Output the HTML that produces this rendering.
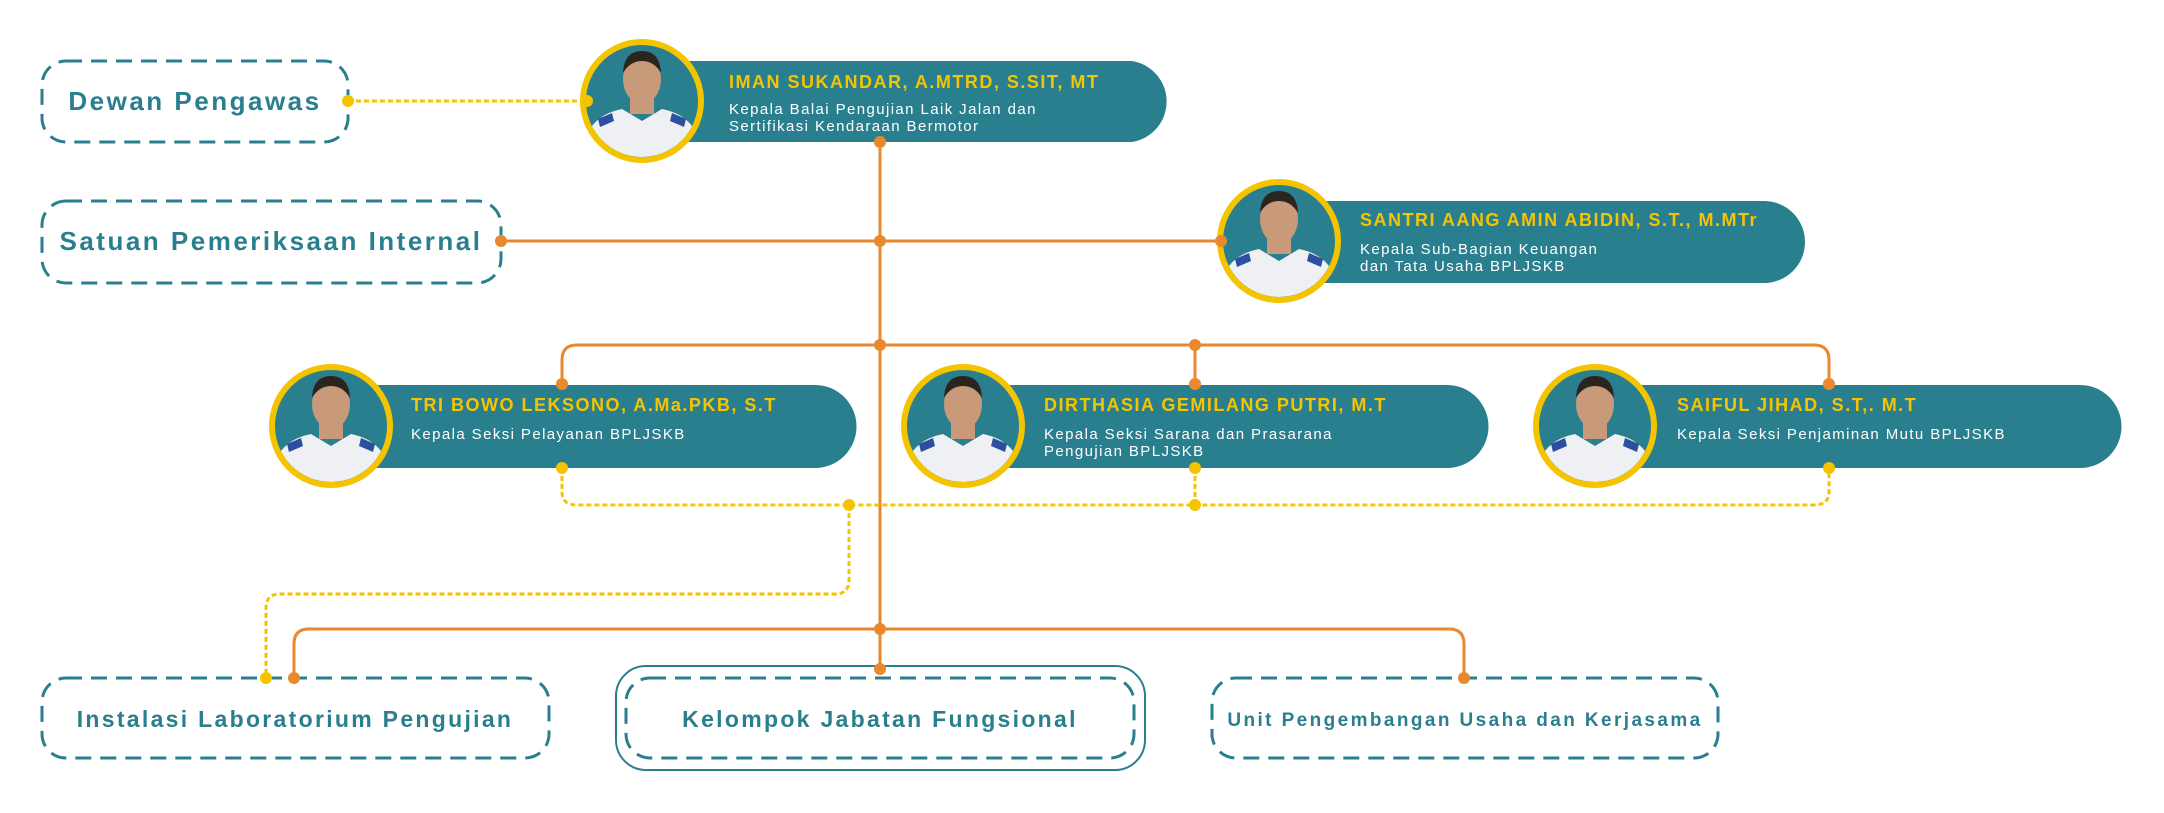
<!DOCTYPE html>
<html><head><meta charset="utf-8"><style>
html,body{margin:0;padding:0;background:#fff;}
svg{display:block;}
text{font-family:"Liberation Sans",sans-serif;}
</style></head><body>
<svg width="2164" height="813" viewBox="0 0 2164 813" xmlns="http://www.w3.org/2000/svg">
<defs>
<clipPath id="c1"><circle cx="0" cy="0" r="56"/></clipPath>
<g id="person">
  <circle cx="0" cy="0" r="58" fill="#2a7f8f"/>
  <g clip-path="url(#c1)">
    <path d="M-55 60 L-50 25 Q-40 12 -20 8 L0 20 L20 8 Q40 12 50 25 L55 60 Z" fill="#eef0f3"/>
    <rect x="-12" y="-5" width="24" height="18" fill="#c99a7a"/>
    <ellipse cx="0" cy="-22" rx="19" ry="25" fill="#c99a7a"/>
    <path d="M-19 -28 Q-18 -50 0 -50 Q18 -50 19 -28 Q12 -40 0 -40 Q-12 -40 -19 -28Z" fill="#2b2520"/>
    <path d="M-44 18 L-30 12 L-28 20 L-42 26Z" fill="#2d4fa0"/>
    <path d="M44 18 L30 12 L28 20 L42 26Z" fill="#2d4fa0"/>
  </g>
  <circle cx="0" cy="0" r="59" fill="none" stroke="#f5c400" stroke-width="6"/>
</g>
</defs>

<g stroke="#e8892e" stroke-width="3" fill="none">
  <line x1="880" y1="142" x2="880" y2="669"/>
  <line x1="501" y1="241" x2="1221" y2="241"/>
  <path d="M562 384 L562 360 Q562 345 577 345 L1814 345 Q1829 345 1829 360 L1829 384"/>
  <line x1="1195" y1="345" x2="1195" y2="384"/>
  <path d="M294 678 L294 644 Q294 629 309 629 L1449 629 Q1464 629 1464 644 L1464 678"/>
</g>
<g stroke="#f5c400" stroke-width="3" fill="none" stroke-dasharray="5 3">
  <line x1="348" y1="101" x2="585" y2="101"/>
  <path d="M562 468 L562 492 Q562 505 577 505 L1814 505 Q1829 505 1829 492 L1829 468"/>
  <line x1="1195" y1="468" x2="1195" y2="505"/>
  <path d="M849 505 L849 580 Q849 594 835 594 L280 594 Q266 594 266 608 L266 678"/>
</g>

<g fill="none" stroke="#2a7f8f" stroke-width="3" stroke-dasharray="16 9">
  <rect x="42" y="61" width="306" height="81" rx="24"/>
  <rect x="42" y="201" width="459" height="82" rx="24"/>
  <rect x="42" y="678" width="507" height="80" rx="24"/>
  <rect x="626" y="678" width="508" height="80" rx="24"/>
  <rect x="1212" y="678" width="506" height="80" rx="24"/>
</g>
<rect x="616" y="666" width="529" height="104" rx="30" fill="none" stroke="#2a7f8f" stroke-width="2"/>
<g fill="#2a7f8f" font-weight="bold" text-anchor="middle">
  <text x="195" y="110" font-size="26" letter-spacing="2.5">Dewan Pengawas</text>
  <text x="271" y="250" font-size="26" letter-spacing="2.5">Satuan Pemeriksaan Internal</text>
  <text x="295" y="727" font-size="23" letter-spacing="2.3">Instalasi Laboratorium Pengujian</text>
  <text x="880" y="727" font-size="23" letter-spacing="2.3">Kelompok Jabatan Fungsional</text>
  <text x="1465" y="726" font-size="19" letter-spacing="2.4">Unit Pengembangan Usaha dan Kerjasama</text>
</g>

<g fill="#2a7f8f">
  <path d="M642 61 L1132 61 A41 41 0 0 1 1132 142 L642 142 Z"/>
  <path d="M1279 201 L1764 201 A41 41 0 0 1 1764 283 L1279 283 Z"/>
  <path d="M331 385 L815 385 A41 41 0 0 1 815 468 L331 468 Z"/>
  <path d="M963 385 L1447 385 A41 41 0 0 1 1447 468 L963 468 Z"/>
  <path d="M1595 385 L2080 385 A41 41 0 0 1 2080 468 L1595 468 Z"/>
</g>
<use href="#person" x="642" y="101"/>
<use href="#person" x="1279" y="241"/>
<use href="#person" x="331" y="426"/>
<use href="#person" x="963" y="426"/>
<use href="#person" x="1595" y="426"/>

<g fill="#e8892e">
  <circle cx="880" cy="142" r="6"/><circle cx="880" cy="241" r="6"/><circle cx="501" cy="241" r="6"/><circle cx="1221" cy="241" r="6"/>
  <circle cx="880" cy="345" r="6"/><circle cx="1195" cy="345" r="6"/>
  <circle cx="562" cy="384" r="6"/><circle cx="1195" cy="384" r="6"/><circle cx="1829" cy="384" r="6"/>
  <circle cx="880" cy="629" r="6"/><circle cx="880" cy="669" r="6"/><circle cx="294" cy="678" r="6"/><circle cx="1464" cy="678" r="6"/>
</g>
<g fill="#f5c400">
  <circle cx="348" cy="101" r="6"/><circle cx="587" cy="101" r="6"/>
  <circle cx="562" cy="468" r="6"/><circle cx="1195" cy="468" r="6"/><circle cx="1829" cy="468" r="6"/>
  <circle cx="849" cy="505" r="6"/><circle cx="1195" cy="505" r="6"/><circle cx="266" cy="678" r="6"/>
</g>

<g font-weight="bold" fill="#f5c400" font-size="18" letter-spacing="1.5">
  <text x="729" y="88">IMAN SUKANDAR, A.MTRD, S.SIT, MT</text>
  <text x="1360" y="226">SANTRI AANG AMIN ABIDIN, S.T., M.MTr</text>
  <text x="411" y="411">TRI BOWO LEKSONO, A.Ma.PKB, S.T</text>
  <text x="1044" y="411">DIRTHASIA GEMILANG PUTRI, M.T</text>
  <text x="1677" y="411">SAIFUL JIHAD, S.T,. M.T</text>
</g>
<g fill="#fff" font-size="15" letter-spacing="1.4">
  <text x="729" y="114">Kepala Balai Pengujian Laik Jalan dan</text>
  <text x="729" y="131">Sertifikasi Kendaraan Bermotor</text>
  <text x="1360" y="254">Kepala Sub-Bagian Keuangan</text>
  <text x="1360" y="271">dan Tata Usaha BPLJSKB</text>
  <text x="411" y="439">Kepala Seksi Pelayanan BPLJSKB</text>
  <text x="1044" y="439">Kepala Seksi Sarana dan Prasarana</text>
  <text x="1044" y="456">Pengujian BPLJSKB</text>
  <text x="1677" y="439">Kepala Seksi Penjaminan Mutu BPLJSKB</text>
</g>
</svg>
</body></html>
